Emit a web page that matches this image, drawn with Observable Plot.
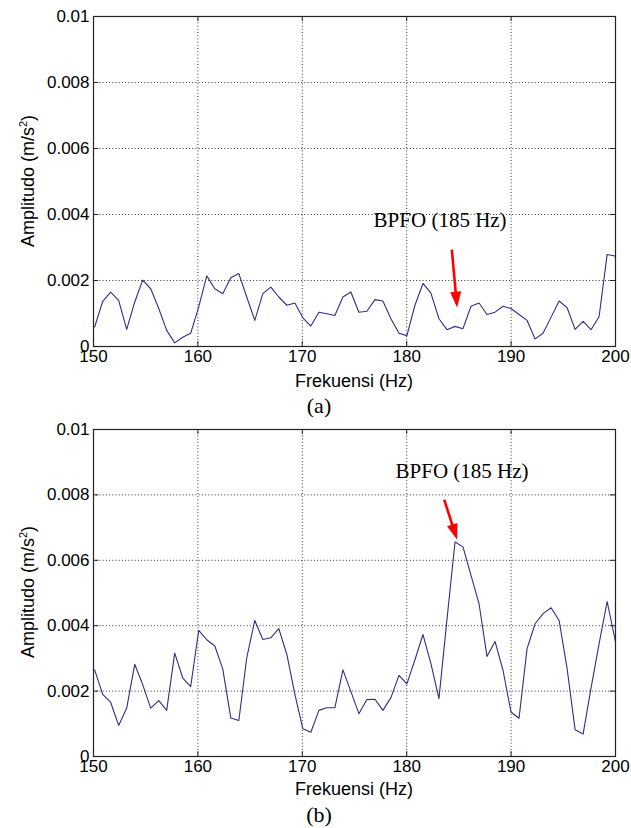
<!DOCTYPE html>
<html>
<head>
<meta charset="utf-8">
<script src="https://cdn.jsdelivr.net/npm/d3@7"></script>
<script src="https://cdn.jsdelivr.net/npm/@observablehq/plot@0.6"></script>
<style>
  html, body { margin: 0; padding: 0; background: #fff; }
  #root { position: relative; width: 631px; height: 828px; background: #fff; overflow: hidden; }
  .panel { position: absolute; left: 0; }
  .lab { position: absolute; font-family: "Liberation Sans", Arial, sans-serif; font-size: 18px; color: #000; white-space: nowrap; }
  .ylab { transform: translate(-50%, -50%) rotate(-90deg); }
  .xlab { transform: translate(-50%, -50%); }
  .cap { position: absolute; font-family: "Liberation Serif", "Times New Roman", serif; font-size: 22px; color: #000; transform: translate(-50%, -50%); white-space: nowrap; }
  sup { font-size: 11px; vertical-align: 7px; line-height: 0; }
</style>
</head>
<body>
<div id="root">
  <div id="pa" class="panel" style="top:0px"></div>
  <div id="pb" class="panel" style="top:413px"></div>
  <div class="lab ylab" style="left:28px; top:181px">Amplitudo (m/s<sup>2</sup>)</div>
  <div class="lab xlab" style="left:354px; top:381px">Frekuensi (Hz)</div>
  <div class="cap" style="left:319px; top:406px">(a)</div>
  <div class="lab ylab" style="left:28px; top:592px">Amplitudo (m/s<sup>2</sup>)</div>
  <div class="lab xlab" style="left:354px; top:789px">Frekuensi (Hz)</div>
  <div class="cap" style="left:319px; top:815px">(b)</div>
</div>
<script>
// ---- data ----
const xTicks = [150, 160, 170, 180, 190, 200];
const yTicks = [0, 0.002, 0.004, 0.006, 0.008, 0.01];
const yTickLabels = ["0", "0.002", "0.004", "0.006", "0.008", "0.01"];

const freq = [150.11, 150.88, 151.64, 152.41, 153.18, 153.95, 154.71, 155.48, 156.25, 157.01,
  157.78, 158.55, 159.31, 160.08, 160.85, 161.62, 162.38, 163.15, 163.92, 164.68,
  165.45, 166.22, 166.98, 167.75, 168.52, 169.29, 170.05, 170.82, 171.59, 172.35,
  173.12, 173.89, 174.65, 175.42, 176.19, 176.96, 177.72, 178.49, 179.26, 180.02,
  180.79, 181.56, 182.32, 183.09, 183.86, 184.63, 185.39, 186.16, 186.93, 187.69,
  188.46, 189.23, 189.99, 190.76, 191.53, 192.30, 193.06, 193.83, 194.60, 195.36,
  196.13, 196.90, 197.66, 198.43, 199.20, 199.97, 200.73];

const ampA = [0.00059, 0.00137, 0.00165, 0.00140, 0.00052, 0.00135, 0.00201, 0.00175, 0.00115, 0.00049,
  0.00011, 0.00028, 0.00040, 0.00120, 0.00214, 0.00175, 0.00160, 0.00208, 0.00221, 0.00150,
  0.00079, 0.00160, 0.00180, 0.00150, 0.00125, 0.00132, 0.00087, 0.00062, 0.00104, 0.00099,
  0.00094, 0.00150, 0.00165, 0.00104, 0.00107, 0.00142, 0.00138, 0.00084, 0.00040, 0.00033,
  0.00125, 0.00191, 0.00162, 0.00084, 0.00051, 0.00061, 0.00054, 0.00122, 0.00132, 0.00097,
  0.00104, 0.00122, 0.00115, 0.00097, 0.00079, 0.00023, 0.00040, 0.00089, 0.00138, 0.00118,
  0.00052, 0.00076, 0.00051, 0.00091, 0.00279, 0.00274, 0.00090];

const ampB = [0.00265, 0.00190, 0.00166, 0.00095, 0.00148, 0.00282, 0.00220, 0.00148, 0.00171, 0.00141,
  0.00316, 0.00240, 0.00214, 0.00386, 0.00357, 0.00338, 0.00268, 0.00118, 0.00110, 0.00302,
  0.00416, 0.00358, 0.00363, 0.00391, 0.00312, 0.00190, 0.00085, 0.00074, 0.00141, 0.00149,
  0.00149, 0.00265, 0.00199, 0.00131, 0.00174, 0.00175, 0.00141, 0.00180, 0.00248, 0.00222,
  0.00296, 0.00373, 0.00284, 0.00177, 0.00420, 0.00656, 0.00641, 0.00554, 0.00467, 0.00306,
  0.00352, 0.00263, 0.00136, 0.00117, 0.00330, 0.00406, 0.00437, 0.00455, 0.00416, 0.00270,
  0.00082, 0.00069, 0.00210, 0.00345, 0.00474, 0.00355, 0.00260];

// annotation anchors (data space): label centre, arrow tail, arrow tip
const annotA = {label: "BPFO (185 Hz)", lx: 183.2, ly: 0.00382, x1: 184.37, y1: 0.00292, x2: 184.88, y2: 0.00116};
const annotB = {label: "BPFO (185 Hz)", lx: 185.3, ly: 0.00871, x1: 183.64, y1: 0.00784, x2: 184.88, y2: 0.00661};

// ---- drawing ----
function arrowMark(a) {
  return (index, scales) => {
    const sx = scales.x(a.x1), sy = scales.y(a.y1);
    const tx = scales.x(a.x2), ty = scales.y(a.y2);
    const dx = tx - sx, dy = ty - sy, len = Math.hypot(dx, dy);
    const ux = dx / len, uy = dy / len, nx = -uy, ny = ux;
    const L = 16, W = 5.5;
    const bx = tx - L * ux, by = ty - L * uy;
    const g = d3.create("svg:g");
    g.append("line").attr("x1", sx).attr("y1", sy).attr("x2", bx + 2 * ux).attr("y2", by + 2 * uy)
      .attr("stroke", "#ff0000").attr("stroke-width", 2.6);
    g.append("path").attr("d", `M${tx},${ty}L${bx + W * nx},${by + W * ny}L${bx - W * nx},${by - W * ny}Z`)
      .attr("fill", "#ff0000");
    return g.node();
  };
}

function panel(amp, annot, height, marginBottom) {
  const data = freq.map((f, i) => ({f, v: amp[i]}));
  return Plot.plot({
    width: 631,
    height,
    marginLeft: 93,
    marginRight: 16,
    marginTop: 16,
    marginBottom,
    style: {fontFamily: "'Liberation Sans', Arial, sans-serif", fontSize: "17px", color: "#000", background: "white", overflow: "visible"},
    x: {domain: [150, 200], ticks: xTicks, tickSize: 0, tickPadding: 3, label: null, tickFormat: d => String(d)},
    y: {domain: [0, 0.01], ticks: yTicks, tickSize: 0, tickPadding: 4, label: null,
        tickFormat: d => yTickLabels[yTicks.indexOf(d)]},
    marks: [
      Plot.ruleX(xTicks, {stroke: "#333", strokeWidth: 1, strokeDasharray: "1,2.2"}),
      Plot.ruleY(yTicks, {stroke: "#333", strokeWidth: 1, strokeDasharray: "1,2.2"}),
      // inward ticks (MATLAB style), all four sides
      Plot.ruleX(xTicks, {y1: 0, y2: 0.00015, stroke: "#222"}),
      Plot.ruleX(xTicks, {y1: 0.01 - 0.00015, y2: 0.01, stroke: "#222"}),
      Plot.ruleY(yTicks, {x1: 150, x2: 150.5, stroke: "#222"}),
      Plot.ruleY(yTicks, {x1: 199.5, x2: 200, stroke: "#222"}),
      Plot.line(data, {x: "f", y: "v", stroke: "#2f2f86", strokeWidth: 1.1, clip: true}),
      Plot.frame({stroke: "#222", strokeWidth: 1.2}),
      Plot.text([annot], {x: "lx", y: "ly", text: "label", fontFamily: "'Liberation Serif', 'Times New Roman', serif",
        fontSize: 21, fill: "#000", textAnchor: "middle", lineAnchor: "middle"}),
      arrowMark(annot)
    ]
  });
}

document.getElementById("pa").appendChild(panel(ampA, annotA, 372, 26));
document.getElementById("pb").appendChild(panel(ampB, annotB, 369, 26));
</script>
</body>
</html>
